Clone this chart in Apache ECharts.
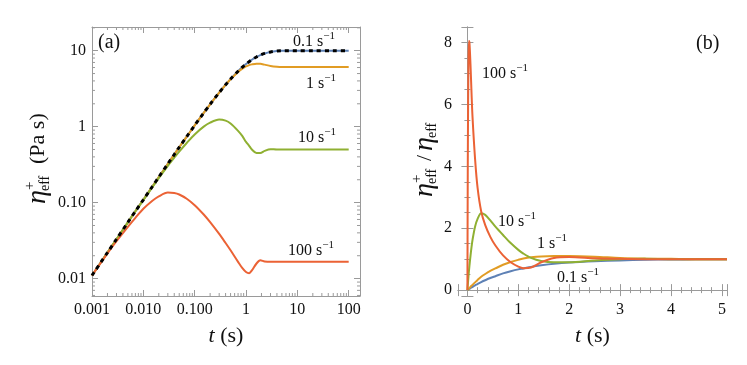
<!DOCTYPE html>
<html>
<head>
<meta charset="utf-8">
<script src="https://cdn.jsdelivr.net/npm/echarts@6/dist/echarts.min.js"></script>
<style>
  html, body { margin: 0; padding: 0; background: #fff; }
  #chart { width: 747px; height: 365px; }
</style>
</head>
<body>
<div id="chart"></div>
<script>
// panel (a): transient viscosity, log-log
var tA = [0.001, 0.002, 0.003, 0.005, 0.007, 0.01, 0.015, 0.02, 0.03, 0.04, 0.05, 0.07, 0.1, 0.15, 0.2, 0.3, 0.4, 0.5, 0.7, 0.85, 1, 1.15, 1.3, 1.6, 1.9, 2.3, 3, 4, 5, 7, 10, 20, 50, 100]
var etaLve = [0.011, 0.022, 0.033, 0.055, 0.077, 0.109, 0.163, 0.217, 0.324, 0.43, 0.535, 0.74, 1.04, 1.52, 1.97, 2.81, 3.56, 4.23, 5.37, 6.08, 6.67, 7.16, 7.6, 8.27, 8.76, 9.2, 9.63, 9.88, 9.96, 10, 10, 10, 10, 10]
var eta01 = [0.011, 0.022, 0.033, 0.055, 0.077, 0.109, 0.163, 0.217, 0.324, 0.43, 0.535, 0.74, 1.04, 1.52, 1.97, 2.81, 3.56, 4.23, 5.37, 6.08, 6.67, 7.16, 7.6, 8.27, 8.76, 9.2, 9.63, 9.88, 9.96, 10, 10, 10, 10, 10]
var eta1 = [0.011, 0.022, 0.033, 0.055, 0.077, 0.109, 0.163, 0.217, 0.324, 0.43, 0.535, 0.74, 1.04, 1.52, 1.97, 2.81, 3.55, 4.2, 5.25, 5.8, 6.2, 6.45, 6.6, 6.75, 6.72, 6.55, 6.3, 6.15, 6.1, 6.1, 6.1, 6.1, 6.1, 6.1]
var eta10 = [0.011, 0.022, 0.033, 0.055, 0.077, 0.108, 0.16, 0.21, 0.305, 0.39, 0.47, 0.61, 0.79, 1.0, 1.13, 1.24, 1.2, 1.1, 0.88, 0.75, 0.63, 0.56, 0.5, 0.45, 0.45, 0.48, 0.505, 0.5, 0.5, 0.5, 0.5, 0.5, 0.5, 0.5]
var eta100 = [0.011, 0.0215, 0.031, 0.048, 0.063, 0.083, 0.106, 0.121, 0.1355, 0.1337, 0.128, 0.1125, 0.0925, 0.0697, 0.0553, 0.0387, 0.0294, 0.0236, 0.0166, 0.0137, 0.0122, 0.0118, 0.0128, 0.0158, 0.0174, 0.0168, 0.0166, 0.0166, 0.0166, 0.0166, 0.0166, 0.0166, 0.0166, 0.0166]
var xMinorA = [0.002, 0.003, 0.004, 0.005, 0.006, 0.007, 0.008, 0.009, 0.02, 0.03, 0.04, 0.05, 0.06, 0.07, 0.08, 0.09, 0.2, 0.3, 0.4, 0.5, 0.6, 0.7, 0.8, 0.9, 2, 3, 4, 5, 6, 7, 8, 9, 20, 30, 40, 50, 60, 70, 80, 90]
var yMinorA = [0.006, 0.007, 0.008, 0.009, 0.02, 0.03, 0.04, 0.05, 0.06, 0.07, 0.08, 0.09, 0.2, 0.3, 0.4, 0.5, 0.6, 0.7, 0.8, 0.9, 2, 3, 4, 5, 6, 7, 8, 9, 20]
var xLabelsA = { '-3': '0.001', '-2': '0.010', '-1': '0.100', '0': '1', '1': '10', '2': '100' }
var yLabelsA = { '-2': '0.01', '-1': '0.10', '0': '1', '1': '10' }

// panel (b): normalised viscosity, linear
var tB = [0, 0.005, 0.01, 0.02, 0.03, 0.04, 0.06, 0.08, 0.1, 0.15, 0.2, 0.27, 0.35, 0.45, 0.55, 0.7, 0.85, 1.0, 1.1, 1.25, 1.45, 1.7, 2.0, 2.5, 3, 3.5, 4, 4.5, 5.1]
var ratio01 = [0, 0.005, 0.011, 0.022, 0.033, 0.043, 0.064, 0.084, 0.104, 0.152, 0.197, 0.26, 0.32, 0.39, 0.45, 0.54, 0.61, 0.67, 0.7, 0.75, 0.8, 0.85, 0.89, 0.93, 0.96, 0.98, 0.99, 0.995, 1.0]
var ratio1 = [0, 0.009, 0.018, 0.036, 0.053, 0.07, 0.105, 0.14, 0.17, 0.25, 0.33, 0.43, 0.52, 0.62, 0.7, 0.82, 0.91, 0.98, 1.02, 1.06, 1.09, 1.1, 1.1, 1.08, 1.04, 1.02, 1.01, 1.0, 1.0]
var ratio10 = [0, 0.11, 0.22, 0.43, 0.62, 0.79, 1.1, 1.38, 1.62, 2.05, 2.3, 2.48, 2.43, 2.25, 2.05, 1.78, 1.52, 1.3, 1.18, 1.04, 0.94, 0.9, 0.9, 0.96, 1.0, 1.01, 1.0, 1.0, 1.0]
var ratio100 = [0, 2.9, 5.0, 7.3, 8.05, 8.0, 7.3, 6.4, 5.6, 4.25, 3.3, 2.55, 2.1, 1.72, 1.44, 1.12, 0.9, 0.76, 0.71, 0.73, 0.9, 1.04, 1.07, 1.03, 1.01, 1.0, 1.0, 1.0, 1.0]

var FONT = 'Liberation Serif'
var colors = ['#5E81B5', '#E19C24', '#8FB032', '#EB6235']
var frameColor = '#9a9a9a'

function pairs(xs, ys) {
  return xs.map(function(x, i) { return [x, ys[i]] })
}

function logLabel(map) {
  return function(v) {
    var k = Math.round(Math.log10(v))
    if (Math.abs(Math.log10(v) - k) > 0.01) return ''
    return map[String(k)] || ''
  }
}

function frameAxis(extra) {
  var base = {
    axisLine: { show: true, lineStyle: { color: frameColor, width: 1 } },
    axisTick: { show: true, inside: true, length: 6, lineStyle: { color: frameColor } },
    splitLine: { show: false },
    axisLabel: { show: false }
  }
  return Object.assign(base, extra)
}

// short log minor ticks drawn on both sides of the frame
function minorTickSeries(vals, dir) {
  return {
    type: 'custom',
    xAxisIndex: 0,
    yAxisIndex: 0,
    silent: true,
    z: 5,
    data: vals.map(function(v) { return dir === 'x' ? [v, 1] : [0.01, v] }),
    renderItem: function(params, api) {
      var cs = params.coordSys
      var st = { stroke: frameColor, lineWidth: 1 }
      if (dir === 'x') {
        var x = api.coord([api.value(0), 1])[0]
        return {
          type: 'group',
          children: [
            { type: 'line', shape: { x1: x, y1: cs.y + cs.height, x2: x, y2: cs.y + cs.height - 3 }, style: st },
            { type: 'line', shape: { x1: x, y1: cs.y, x2: x, y2: cs.y + 3 }, style: st }
          ]
        }
      }
      var y = api.coord([0.01, api.value(1)])[1]
      return {
        type: 'group',
        children: [
          { type: 'line', shape: { x1: cs.x, y1: y, x2: cs.x + 3, y2: y }, style: st },
          { type: 'line', shape: { x1: cs.x + cs.width, y1: y, x2: cs.x + cs.width - 3, y2: y }, style: st }
        ]
      }
    }
  }
}

function lineSeries(data, color, xi, yi, extra) {
  return Object.assign({
    type: 'line',
    xAxisIndex: xi,
    yAxisIndex: yi,
    data: data,
    showSymbol: false,
    smooth: 0.3,
    animation: false,
    lineStyle: { color: color, width: 2 },
    z: 3
  }, extra || {})
}

var rateRich = {
  m: { fontFamily: FONT, fontSize: 16, fill: '#111' },
  p: { fontFamily: FONT, fontSize: 11, fill: '#111', padding: [0, 0, 10, 0] }
}

function rateLabel(txt, x, y) {
  return {
    type: 'text',
    left: x,
    top: y,
    silent: true,
    style: { text: '{m|' + txt + ' s}{p|\u22121}', rich: rateRich, fill: '#111' }
  }
}

function txt(s, x, y, size, italic) {
  return {
    type: 'text',
    x: x,
    y: y,
    style: {
      text: s,
      fill: '#111',
      font: (italic ? 'italic ' : '') + size + 'px "' + FONT + '"',
      textAlign: 'left',
      textVerticalAlign: 'middle'
    }
  }
}

var chart = echarts.init(document.getElementById('chart'), null, { renderer: 'canvas' })

var tickLabel = { show: true, fontFamily: FONT, fontSize: 16, color: '#111', margin: 6 }
var tName = {
  name: '{i|t} (s)',
  nameLocation: 'middle',
  nameGap: 29,
  nameTextStyle: {
    fontFamily: FONT, fontSize: 22, color: '#111',
    rich: { i: { fontFamily: FONT, fontSize: 22, fontStyle: 'italic', color: '#111' } }
  }
}

chart.setOption({
  animation: false,
  grid: [
    { left: 92, top: 27, width: 268, height: 269 },
    { left: 458, top: 27, width: 269, height: 269 }
  ],
  xAxis: [
    frameAxis(Object.assign({
      type: 'log', gridIndex: 0, min: 0.001, max: 166, position: 'bottom',
      axisLabel: Object.assign({}, tickLabel, { formatter: logLabel(xLabelsA), showMaxLabel: false })
    }, tName)),
    frameAxis({ type: 'log', gridIndex: 0, min: 0.001, max: 166, position: 'top' }),
    frameAxis(Object.assign({
      type: 'value', gridIndex: 1, min: -0.185, max: 5.1, position: 'bottom',
      minorTick: { show: true, splitNumber: 5, length: 3, lineStyle: { color: frameColor } },
      axisLabel: Object.assign({}, tickLabel, { showMinLabel: false, showMaxLabel: false })
    }, tName)),
    frameAxis({
      type: 'value', gridIndex: 1, min: -0.185, max: 5.1, position: 'top',
      minorTick: { show: true, splitNumber: 5, length: 3, lineStyle: { color: frameColor } }
    })
  ],
  yAxis: [
    frameAxis({
      type: 'log', gridIndex: 0, min: 0.0059, max: 20.5, position: 'left',
      axisLabel: Object.assign({}, tickLabel, { formatter: logLabel(yLabelsA), showMinLabel: false, showMaxLabel: false })
    }),
    frameAxis({ type: 'log', gridIndex: 0, min: 0.0059, max: 20.5, position: 'right' }),
    frameAxis({
      type: 'value', gridIndex: 1, min: -0.19, max: 8.5, position: 'left',
      minorTick: { show: true, splitNumber: 4, length: 3, lineStyle: { color: frameColor } },
      axisLabel: Object.assign({}, tickLabel, { showMinLabel: false, showMaxLabel: false })
    }),
    frameAxis({
      type: 'value', gridIndex: 1, min: -0.19, max: 8.5, position: 'right',
      minorTick: { show: true, splitNumber: 4, length: 3, lineStyle: { color: frameColor } }
    })
  ],
  series: [
    lineSeries(pairs(tA, eta01), colors[0], 0, 0),
    lineSeries(pairs(tA, eta1), colors[1], 0, 0),
    lineSeries(pairs(tA, eta10), colors[2], 0, 0),
    lineSeries(pairs(tA, eta100), colors[3], 0, 0),
    lineSeries(pairs(tA, etaLve), '#000', 0, 0, {
      lineStyle: { color: '#000', width: 3, type: [4, 4] }, z: 4
    }),
    minorTickSeries(xMinorA, 'x'),
    minorTickSeries(yMinorA, 'y'),
    lineSeries(pairs(tB, ratio01), colors[0], 2, 2),
    lineSeries(pairs(tB, ratio1), colors[1], 2, 2),
    lineSeries(pairs(tB, ratio10), colors[2], 2, 2),
    lineSeries(pairs(tB, ratio100), colors[3], 2, 2)
  ],
  graphic: [
    txt('(a)', 98, 43, 20),
    txt('(b)', 696, 44, 20),
    rateLabel('0.1', 293, 31),
    rateLabel('1', 306, 73),
    rateLabel('10', 298, 127),
    rateLabel('100', 288, 240),
    rateLabel('100', 482, 63),
    rateLabel('10', 498, 211),
    rateLabel('1', 537, 233),
    rateLabel('0.1', 557, 267),
    {
      // y title (a), rotated to read upwards
      type: 'group',
      x: 38,
      y: 158,
      rotation: Math.PI / 2,
      children: [
        txt('\u03b7', -46, 0, 28, true),
        txt('+', -32, -8, 15),
        txt('eff', -33, 7, 14),
        txt('(Pa s)', -6, 0, 22)
      ]
    },
    {
      // y title (b)
      type: 'group',
      x: 425,
      y: 155,
      rotation: Math.PI / 2,
      children: [
        txt('\u03b7', -42, 0, 28, true),
        txt('+', -28, -8, 15),
        txt('eff', -29, 7, 14),
        txt('/', -6, 0, 22),
        txt('\u03b7', 4, 0, 28, true),
        txt('eff', 17, 7, 14)
      ]
    }
  ]
})
</script>
</body>
</html>
